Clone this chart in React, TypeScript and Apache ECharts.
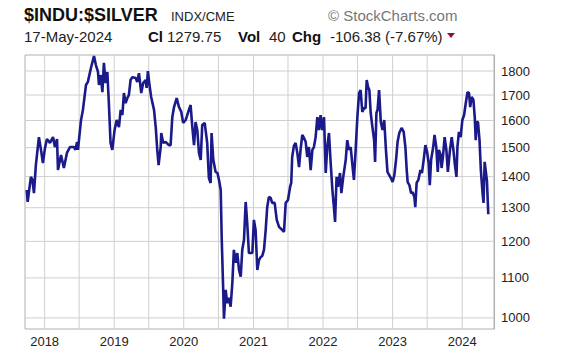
import React, { useEffect, useRef } from "react";
import * as echarts from "echarts";

const dates: string[] = [
  "2017-09-29","2017-10-04","2017-10-12","2017-10-21","2017-10-29","2017-11-06","2017-11-16","2017-12-02","2017-12-13","2017-12-23",
  "2018-01-03","2018-01-13","2018-01-29","2018-02-14","2018-02-24","2018-03-07","2018-03-12","2018-03-28","2018-04-12","2018-04-28",
  "2018-05-14","2018-06-04","2018-06-12","2018-06-20","2018-06-25","2018-07-11","2018-07-21","2018-08-06","2018-08-16","2018-09-01",
  "2018-09-17","2018-09-27","2018-10-08","2018-10-13","2018-10-23","2018-10-31","2018-11-08","2018-11-17","2018-11-26","2018-12-04",
  "2018-12-13","2018-12-22","2019-01-03","2019-01-14","2019-01-26","2019-02-04","2019-02-13","2019-02-21","2019-03-02","2019-03-11",
  "2019-03-19","2019-03-28","2019-04-06","2019-04-24","2019-05-02","2019-05-11","2019-05-23","2019-06-02","2019-06-15","2019-06-20",
  "2019-06-27","2019-07-04","2019-07-14","2019-07-29","2019-08-07","2019-08-15","2019-08-22","2019-09-02","2019-09-05","2019-09-15",
  "2019-09-28","2019-10-15","2019-10-24","2019-11-02","2019-11-11","2019-11-25","2019-12-07","2019-12-19","2019-12-29","2020-01-11",
  "2020-01-16","2020-01-28","2020-02-06","2020-02-15","2020-02-24","2020-03-03","2020-03-12","2020-03-21","2020-03-30","2020-04-07",
  "2020-04-20","2020-05-03","2020-05-12","2020-05-21","2020-05-26","2020-06-04","2020-06-16","2020-06-26","2020-07-04","2020-07-13",
  "2020-07-18","2020-07-25","2020-07-30","2020-08-08","2020-08-16","2020-08-25","2020-09-03","2020-09-12","2020-09-20","2020-09-29",
  "2020-10-08","2020-10-17","2020-10-26","2020-11-03","2020-11-12","2020-11-21","2020-11-29","2020-12-08","2020-12-17","2020-12-26",
  "2021-01-03","2021-01-12","2021-01-21","2021-01-30","2021-02-08","2021-02-16","2021-02-25","2021-03-06","2021-03-14","2021-03-23",
  "2021-04-01","2021-04-09","2021-04-22","2021-05-03","2021-05-15","2021-06-01","2021-06-10","2021-06-19","2021-07-01","2021-07-12",
  "2021-07-18","2021-07-23","2021-08-01","2021-08-10","2021-08-19","2021-08-28","2021-09-05","2021-09-14","2021-09-23","2021-10-02",
  "2021-10-10","2021-10-19","2021-10-28","2021-11-06","2021-11-14","2021-11-23","2021-12-02","2021-12-11","2021-12-19","2021-12-28",
  "2022-01-06","2022-01-15","2022-01-23","2022-02-01","2022-02-10","2022-02-19","2022-02-27","2022-03-05","2022-03-13","2022-03-20",
  "2022-03-31","2022-04-07","2022-04-17","2022-04-30","2022-05-08","2022-05-17","2022-05-26","2022-06-03","2022-06-12","2022-06-21",
  "2022-06-30","2022-07-09","2022-07-17","2022-07-26","2022-08-04","2022-08-12","2022-08-18","2022-08-25","2022-09-01","2022-09-08",
  "2022-09-17","2022-09-26","2022-10-01","2022-10-08","2022-10-14","2022-10-22","2022-10-31","2022-11-09","2022-11-18","2022-11-27",
  "2022-12-05","2022-12-23","2023-01-01","2023-01-10","2023-01-19","2023-01-27","2023-02-05","2023-02-17","2023-02-28","2023-03-09",
  "2023-03-16","2023-03-21","2023-03-30","2023-04-08","2023-04-16","2023-04-25","2023-04-30","2023-05-07","2023-05-16","2023-05-27",
  "2023-06-04","2023-06-13","2023-06-22","2023-07-01","2023-07-09","2023-07-15","2023-07-22","2023-08-02","2023-08-09","2023-08-18",
  "2023-08-26","2023-09-01","2023-09-10","2023-09-15","2023-09-22","2023-10-01","2023-10-10","2023-10-18","2023-10-29","2023-11-07",
  "2023-11-16","2023-11-24","2023-12-02","2023-12-07","2023-12-15","2023-12-24","2024-01-02","2024-01-11","2024-01-20","2024-01-29",
  "2024-02-06","2024-02-12","2024-02-20","2024-02-29","2024-03-07","2024-03-12","2024-03-18","2024-03-24","2024-04-01","2024-04-08",
  "2024-04-17","2024-04-22","2024-04-28","2024-05-10","2024-05-17"
];

const values: number[] = [
  1356,1318,1356,1399,1389,1346,1439,1538,1492,1446,
  1499,1531,1517,1538,1502,1531,1422,1474,1429,1481,
  1502,1502,1492,1520,1492,1602,1641,1741,1754,1813,
  1865,1826,1796,1741,1783,1712,1835,1749,1796,1668,
  1517,1492,1564,1602,1575,1641,1621,1708,1668,1688,
  1700,1762,1774,1770,1754,1791,1708,1749,1762,1729,
  1800,1749,1692,1641,1575,1492,1439,1502,1553,1517,
  1520,1509,1509,1613,1652,1688,1652,1633,1591,1602,
  1613,1641,1660,1575,1509,1594,1564,1481,1457,1583,
  1591,1517,1395,1379,1553,1457,1416,1412,1389,1356,
  1213,1087,998,1069,1036,1049,1027,1087,1176,1140,
  1167,1121,1103,1176,1204,1318,1254,1167,1167,1167,
  1263,1233,1121,1148,1156,1159,1176,1233,1302,1334,
  1331,1315,1315,1263,1242,1233,1227,1315,1324,1366,
  1379,1467,1506,1517,1481,1432,1492,1546,1535,1520,
  1467,1502,1422,1492,1502,1538,1613,1564,1621,1564,
  1613,1412,1502,1553,1446,1356,1302,1257,1399,1366,
  1412,1346,1399,1457,1527,1492,1502,1446,1389,1492,
  1613,1708,1720,1633,1648,1648,1762,1733,1720,1629,
  1575,1527,1450,1629,1641,1720,1594,1564,1602,1492,
  1416,1395,1382,1405,1457,1520,1553,1572,1557,1502,
  1422,1382,1372,1346,1349,1334,1302,1379,1389,1422,
  1412,1457,1509,1485,1446,1372,1457,1502,1546,1502,
  1416,1492,1474,1429,1467,1538,1492,1416,1492,1538,
  1492,1439,1399,1502,1557,1538,1602,1621,1668,1712,
  1708,1652,1692,1680,1613,1527,1594,1594,1527,1422,
  1346,1315,1450,1386,1279.75
];

const yTicks: number[] = [1000, 1100, 1200, 1300, 1400, 1500, 1600, 1700, 1800];
const yearLabels: string[] = ["2018", "2019", "2020", "2021", "2022", "2023", "2024"];
const gridDates: string[] = [
  "2018-01-01","2018-07-01","2019-01-01","2019-07-01","2020-01-01","2020-07-01",
  "2021-01-01","2021-07-01","2022-01-01","2022-07-01","2023-01-01","2023-07-01","2024-01-01"
];
const xMinDate = "2017-09-20";
const xMaxDate = "2024-06-16";
const yMin = 974;
const yMax = 1870;

const ts = (s: string) => {
  const [y, m, d] = s.split("-").map(Number);
  return Date.UTC(y, m - 1, d);
};

const FONT = '"Liberation Sans", Arial, sans-serif';
const GRID_COLOR = "#cfcfcf";

export default function App() {
  const ref = useRef<HTMLDivElement>(null);
  useEffect(() => {
    if (!ref.current) return;
    const chart = echarts.init(ref.current, undefined, { renderer: "svg" });
    const data = dates.map((d, i) => [ts(d), values[i]]);
    const gridSeries: any[] = [
      ...gridDates.map((d) => [[ts(d), yMin], [ts(d), yMax]]),
      ...yTicks.map((v) => [[ts(xMinDate), v], [ts(xMaxDate), v]]),
    ].map((seg) => ({
      type: "line",
      data: seg,
      silent: true,
      showSymbol: false,
      symbol: "none",
      z: 3,
      lineStyle: { color: GRID_COLOR, width: 1 },
      emphasis: { disabled: true },
    }));
    const option: any = {
      animation: false,
      backgroundColor: "#ffffff",
      grid: {
        left: 25, top: 55, right: 69, bottom: 25,
        show: true, backgroundColor: "transparent", borderColor: "#b0b0b0", borderWidth: 1,
      },
      xAxis: {
        type: "value",
        min: ts(xMinDate),
        max: ts(xMaxDate),
        axisLine: { show: false },
        axisTick: { show: false },
        splitLine: { show: false },
        axisLabel: {
          customValues: yearLabels.map((y) => ts(y + "-01-01")),
          formatter: (v: number) => String(new Date(v).getUTCFullYear()),
          color: "#222",
          fontSize: 13,
          fontFamily: FONT,
          margin: 6,
          showMinLabel: true,
          showMaxLabel: true,
        },
      },
      yAxis: {
        type: "log",
        logBase: 10,
        position: "right",
        min: yMin,
        max: yMax,
        axisLine: { show: true, lineStyle: { color: "#b0b0b0" } },
        axisTick: { show: false },
        splitLine: { show: false },
        axisLabel: {
          customValues: yTicks,
          formatter: (v: number) => String(Math.round(v)),
          color: "#222",
          fontSize: 13,
          fontFamily: FONT,
          margin: 7,
        },
      },
      series: [
        ...gridSeries,
        {
          type: "line",
          data,
          showSymbol: false,
          symbol: "none",
          lineStyle: { color: "#1a1a8a", width: 2.6 },
          z: 5,
        },
      ],
      graphic: [
        { type: "text", x: 24, y: 15, style: { text: "$INDU:$SILVER", font: `bold 18px ${FONT}`, fill: "#111", verticalAlign: "middle" } },
        { type: "text", x: 171, y: 16, style: { text: "INDX/CME", font: `13px ${FONT}`, fill: "#222", verticalAlign: "middle" } },
        { type: "text", x: 328, y: 15, style: { text: "© StockCharts.com", font: `15px ${FONT}`, fill: "#777", verticalAlign: "middle" } },
        { type: "text", x: 24, y: 36, style: { text: "17-May-2024", font: `15px ${FONT}`, fill: "#222", verticalAlign: "middle" } },
        { type: "text", x: 148, y: 36, style: { text: "Cl", font: `bold 15px ${FONT}`, fill: "#111", verticalAlign: "middle" } },
        { type: "text", x: 167, y: 36, style: { text: "1279.75", font: `15px ${FONT}`, fill: "#222", verticalAlign: "middle" } },
        { type: "text", x: 238, y: 36, style: { text: "Vol", font: `bold 15px ${FONT}`, fill: "#111", verticalAlign: "middle" } },
        { type: "text", x: 269, y: 36, style: { text: "40", font: `15px ${FONT}`, fill: "#222", verticalAlign: "middle" } },
        { type: "text", x: 292, y: 36, style: { text: "Chg", font: `bold 15px ${FONT}`, fill: "#111", verticalAlign: "middle" } },
        { type: "text", x: 330, y: 36, style: { text: "-106.38 (-7.67%)", font: `15px ${FONT}`, fill: "#222", verticalAlign: "middle" } },
        { type: "polygon", shape: { points: [[447, 33], [455, 33], [451, 38]] }, style: { fill: "#8b1530" } },
      ],
    };
    chart.setOption(option);
    return () => chart.dispose();
  }, []);
  return <div ref={ref} style={{ position: "fixed", left: 0, top: 0, width: 563, height: 354 }} />;
}
